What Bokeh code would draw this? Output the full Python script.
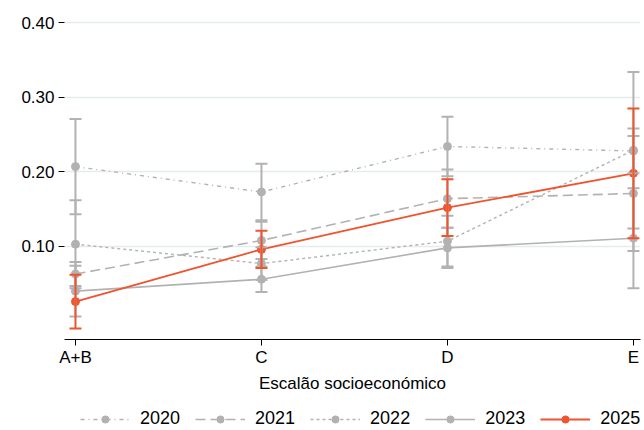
from bokeh.plotting import figure
from bokeh.layouts import column
from bokeh.models import (Range1d, FixedTicker, NumeralTickFormatter, Whisker, TeeHead,
                          ColumnDataSource, Legend, LegendItem)
from bokeh.embed import file_html
from bokeh.resources import INLINE

# ---- data ----
categories = ["A+B", "C", "D", "E"]
years = ["2020", "2021", "2022", "2023", "2025"]

v2020 = [0.207, 0.173, 0.234, 0.228]
e2020 = [0.064, 0.038, 0.040, 0.030]
v2021 = [0.063, 0.108, 0.164, 0.171]
e2021 = [0.016, 0.025, 0.039, 0.077]
v2022 = [0.103, 0.077, 0.107, 0.229]
e2022 = [0.059, 0.022, 0.034, 0.105]
v2023 = [0.040, 0.056, 0.098, 0.111]
e2023 = [0.034, 0.017, 0.027, 0.067]
v2025 = [0.026, 0.096, 0.152, 0.198]
e2025 = [0.036, 0.025, 0.038, 0.087]

y_ticks = [0.1, 0.2, 0.3, 0.4]
x_label = "Escalão socioeconómico"

values = [v2020, v2021, v2022, v2023, v2025]
errors = [e2020, e2021, e2022, e2023, e2025]

GRAY = "#b2b2b2"
RED = "#f0532d"
styles = {
    "2020": dict(color=GRAY, dash="4 4 1 4", width=1.4),
    "2021": dict(color=GRAY, dash="10 5", width=1.6),
    "2022": dict(color=GRAY, dash="3 3", width=1.4),
    "2023": dict(color=GRAY, dash="solid", width=1.6),
    "2025": dict(color=RED, dash="solid", width=1.8),
}
FONT = "Liberation Sans"
FS = "17px"

p = figure(output_backend="svg", toolbar_location=None,
           frame_width=576, frame_height=331,
           x_range=Range1d(-0.059, 3.038), y_range=Range1d(-0.0248, 0.419),
           min_border_left=64, min_border_right=4, min_border_top=8, min_border_bottom=67)
p.outline_line_color = None
p.background_fill_color = "white"

# legend strip (a separate small figure under the chart)
leg = figure(output_backend="svg", toolbar_location=None,
             frame_width=644, frame_height=23,
             x_range=Range1d(-20, -19), y_range=Range1d(0, 1),
             x_axis_type=None, y_axis_type=None,
             min_border_left=0, min_border_right=0, min_border_top=0, min_border_bottom=0)
leg.outline_line_color = None
leg.xgrid.visible = False
leg.ygrid.visible = False

xs = list(range(len(categories)))
items = []
for yr, vals, errs in zip(years, values, errors):
    st = styles[yr]
    src = ColumnDataSource(dict(x=xs, y=vals,
                                lo=[v - e for v, e in zip(vals, errs)],
                                hi=[v + e for v, e in zip(vals, errs)]))
    w = Whisker(source=src, base="x", lower="lo", upper="hi",
                line_color=st["color"], line_width=2,
                upper_head=TeeHead(size=12, line_color=st["color"], line_width=2),
                lower_head=TeeHead(size=12, line_color=st["color"], line_width=2),
                level="glyph")
    p.add_layout(w)
    p.line("x", "y", source=src, line_color=st["color"], line_width=st["width"],
           line_dash=st["dash"])
    p.scatter("x", "y", source=src, size=8, fill_color=st["color"],
              line_color=st["color"])
    # legend keys: same styles, drawn with the series' data outside this strip's view
    ln = leg.line(x="x", y="y", source=src, line_color=st["color"], line_width=st["width"],
                  line_dash=st["dash"])
    sc = leg.scatter(x="x", y="y", source=src, size=8, fill_color=st["color"],
                     line_color=st["color"])
    items.append(LegendItem(label=yr, renderers=[ln, sc]))

# axes
xa = p.xaxis[0]
xa.ticker = FixedTicker(ticks=xs)
xa.major_label_overrides = {i: c for i, c in enumerate(categories)}
xa.minor_tick_line_color = None
xa.major_tick_in = 0
xa.major_tick_out = 6
xa.axis_line_color = "black"
xa.major_tick_line_color = "black"
xa.major_label_standoff = 2
xa.major_label_text_font = FONT
xa.major_label_text_font_size = FS
xa.major_label_text_color = "black"
xa.axis_label = x_label
xa.axis_label_text_font = FONT
xa.axis_label_text_font_size = FS
xa.axis_label_text_font_style = "normal"
xa.axis_label_text_color = "black"
xa.axis_label_standoff = 4

ya = p.yaxis[0]
ya.ticker = FixedTicker(ticks=y_ticks)
ya.formatter = NumeralTickFormatter(format="0.00")
ya.axis_line_color = None
ya.minor_tick_line_color = None
ya.major_tick_in = 0
ya.major_tick_out = 6
ya.major_tick_line_color = "black"
ya.major_label_standoff = 4
ya.major_label_text_font = FONT
ya.major_label_text_font_size = FS
ya.major_label_text_color = "black"

p.xgrid.grid_line_color = None
p.ygrid.ticker = FixedTicker(ticks=y_ticks)
p.ygrid.grid_line_color = "#e4ecef"
p.ygrid.grid_line_width = 1.5

legend = Legend(items=items, orientation="horizontal", location=(80, 0),
                glyph_width=50, glyph_height=18, label_standoff=10, spacing=15,
                padding=0, margin=0, border_line_color=None,
                background_fill_alpha=0,
                label_text_font=FONT, label_text_font_size="18px",
                label_text_color="black")
leg.add_layout(legend, "center")

layout = column(p, leg, spacing=0)
open("out.html", "w").write(file_html(layout, INLINE))
